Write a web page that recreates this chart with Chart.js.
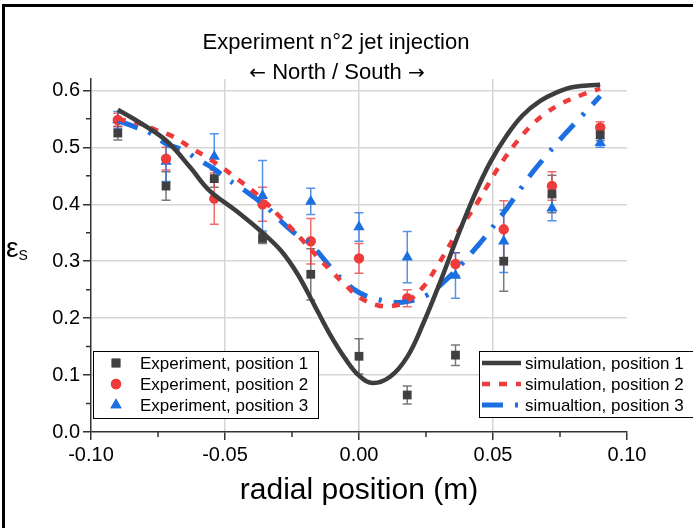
<!DOCTYPE html>
<html><head><meta charset="utf-8">
<script src="https://cdn.jsdelivr.net/npm/chart.js@4.4.1/dist/chart.umd.min.js"></script>
<style>
html,body{margin:0;padding:0;background:#fff;}
#wrap{position:relative;width:693px;height:528px;overflow:hidden;font-family:"Liberation Sans",Arial,sans-serif;background:#fff;}
#c{position:absolute;left:0;top:0;}
.t{position:absolute;white-space:nowrap;color:#000;transform:translate(-50%,-50%);}
.ar{font-family:"DejaVu Sans",sans-serif;font-size:20px;}
#frame{position:absolute;left:2px;top:4px;width:800px;height:700px;border:3px solid #000;}
</style></head><body>
<div id="wrap">
<canvas id="c" width="693" height="528"></canvas>
<div id="frame"></div>
<div class="t" style="left:336px;top:42px;font-size:22px">Experiment n°2 jet injection</div>
<div class="t" style="left:337px;top:72px;font-size:22px"><span class="ar">←</span> North / South <span class="ar">→</span></div>
<div style="position:absolute;left:6px;top:233px;font-size:28px;line-height:30px;color:#000;">ε<span style="font-size:14px;position:relative;top:3px;">S</span></div>
</div>
<script>
// ---- data ----
const expX = [-0.09, -0.072, -0.054, -0.036, -0.018, 0.0, 0.018, 0.036, 0.054, 0.072, 0.09];
const exp1 = [0.525, 0.432, 0.445, 0.340, 0.277, 0.133, 0.065, 0.135, 0.300, 0.418, 0.522];
const err1 = [0.012, 0.025, 0.015, 0.009, 0.045, 0.031, 0.016, 0.018, 0.053, 0.033, 0.010];
const exp2 = [0.548, 0.480, 0.410, 0.400, 0.335, 0.305, 0.235, 0.295, 0.356, 0.432, 0.535];
const err2 = [0.012, 0.020, 0.045, 0.030, 0.040, 0.026, 0.015, 0.020, 0.050, 0.025, 0.010];
const exp3 = [0.548, 0.475, 0.484, 0.415, 0.405, 0.360, 0.307, 0.275, 0.335, 0.393, 0.508];
const err3 = [0.015, 0.035, 0.040, 0.062, 0.023, 0.025, 0.045, 0.040, 0.055, 0.022, 0.008];

const simX1 = [-0.09, -0.082, -0.072, -0.063, -0.056, -0.046, -0.036, -0.029, -0.023, -0.017, -0.011, -0.005, 0.0, 0.005, 0.0116, 0.018, 0.024, 0.030, 0.0365, 0.043, 0.049, 0.055, 0.061, 0.0675, 0.074, 0.080, 0.09];
const simY1 = [0.566, 0.544, 0.512, 0.465, 0.425, 0.389, 0.350, 0.318, 0.278, 0.226, 0.173, 0.128, 0.099, 0.086, 0.097, 0.132, 0.191, 0.260, 0.340, 0.415, 0.474, 0.520, 0.556, 0.581, 0.597, 0.606, 0.610];

const simX2 = [-0.09, -0.082, -0.0755, -0.069, -0.063, -0.057, -0.0506, -0.0456, -0.04, -0.0344, -0.0295, -0.0245, -0.02, -0.015, -0.010, -0.005, 0.0, 0.0066, 0.012, 0.0178, 0.024, 0.029, 0.036, 0.0439, 0.0476, 0.0514, 0.0551, 0.0588, 0.0638, 0.0694, 0.0756, 0.0825, 0.09];
const simY2 = [0.550, 0.542, 0.530, 0.518, 0.500, 0.483, 0.463, 0.445, 0.425, 0.401, 0.378, 0.354, 0.331, 0.305, 0.281, 0.258, 0.237, 0.223, 0.221, 0.229, 0.255, 0.290, 0.345, 0.401, 0.430, 0.460, 0.486, 0.509, 0.536, 0.559, 0.577, 0.591, 0.603];

const simX3 = [-0.09, -0.0836, -0.0774, -0.0718, -0.0655, -0.0606, -0.0544, -0.0494, -0.0444, -0.0394, -0.0344, -0.0295, -0.0245, -0.0183, -0.0096, -0.005, 0.0, 0.0053, 0.0128, 0.0178, 0.0252, 0.0327, 0.0389, 0.0439, 0.0464, 0.0538, 0.0588, 0.0644, 0.0707, 0.0762, 0.0837, 0.09];
const simY3 = [0.547, 0.536, 0.524, 0.506, 0.495, 0.480, 0.463, 0.445, 0.430, 0.413, 0.395, 0.372, 0.351, 0.331, 0.284, 0.262, 0.245, 0.235, 0.228, 0.229, 0.240, 0.268, 0.298, 0.325, 0.339, 0.384, 0.417, 0.454, 0.490, 0.520, 0.558, 0.590];

const xTicks = [-0.10, -0.05, 0.0, 0.05, 0.10];
const xMinor = [-0.075, -0.025, 0.025, 0.075];
const yTicks = [0.0, 0.1, 0.2, 0.3, 0.4, 0.5, 0.6];
const yMinor = [0.05, 0.15, 0.25, 0.35, 0.45, 0.55];

const labels = ['Experiment, position 1', 'Experiment, position 2', 'Experiment, position 3',
                'simulation, position 1', 'simulation, position 2', 'simualtion, position 3'];

// ---- styles ----
const GRAY = '#404040', RED = '#ef3b3b', BLUE = '#1c6fe0';
const FONT = '"Liberation Sans", Arial, sans-serif';
const pts = (xs, ys) => xs.map((x, i) => ({x: x, y: ys[i]}));
const errs = [err1, err2, err3];

const errorBars = {
  id: 'errorBars',
  beforeDatasetsDraw(chart) {
    const ctx = chart.ctx, xs = chart.scales.x, ys = chart.scales.y;
    ctx.save();
    for (let d = 0; d < 3; d++) {
      const ds = chart.data.datasets[d];
      ctx.strokeStyle = ds.errColor;
      ctx.lineWidth = 1.5;
      ds.data.forEach((p, i) => {
        const e = errs[d][i];
        const px = xs.getPixelForValue(p.x);
        const y1 = ys.getPixelForValue(p.y + e), y2 = ys.getPixelForValue(p.y - e);
        ctx.beginPath();
        ctx.moveTo(px, y1); ctx.lineTo(px, y2);
        ctx.moveTo(px - 4.5, y1); ctx.lineTo(px + 4.5, y1);
        ctx.moveTo(px - 4.5, y2); ctx.lineTo(px + 4.5, y2);
        ctx.stroke();
      });
    }
    ctx.restore();
  }
};

const extras = {
  id: 'extras',
  afterDraw(chart) {
    const ctx = chart.ctx, xs = chart.scales.x, ys = chart.scales.y;
    const a = chart.chartArea;
    ctx.save();
    // minor ticks
    ctx.strokeStyle = '#333'; ctx.lineWidth = 1.5;
    ctx.beginPath();
    xMinor.forEach(v => { const px = xs.getPixelForValue(v); ctx.moveTo(px, a.bottom); ctx.lineTo(px, a.bottom + 5); });
    yMinor.forEach(v => { const py = ys.getPixelForValue(v); ctx.moveTo(a.left, py); ctx.lineTo(a.left - 5, py); });
    ctx.stroke();

    // legends
    const rows = [363, 384, 405];
    ctx.font = '17px ' + FONT;
    ctx.textBaseline = 'middle';
    ctx.textAlign = 'left';
    // left legend
    ctx.fillStyle = '#fff';
    ctx.fillRect(93.5, 351.5, 225, 67);
    ctx.strokeStyle = '#000'; ctx.lineWidth = 1;
    ctx.strokeRect(93.5, 351.5, 225, 67);
    for (let d = 0; d < 3; d++) {
      const ds = chart.data.datasets[d];
      ctx.fillStyle = ds.backgroundColor;
      ctx.strokeStyle = ds.backgroundColor;
      Chart.helpers.drawPoint(ctx, {pointStyle: ds.pointStyle, radius: ds.pointRadius, borderWidth: 0, rotation: 0}, 116, rows[d]);
      ctx.fill();
      ctx.fillStyle = '#000';
      ctx.fillText(ds.label, 140, rows[d] + 1);
    }
    // right legend
    ctx.fillStyle = '#fff';
    ctx.fillRect(479.5, 351.5, 240, 66);
    ctx.strokeStyle = '#000'; ctx.lineWidth = 1; ctx.setLineDash([]);
    ctx.strokeRect(479.5, 351.5, 240, 66);
    for (let d = 3; d < 6; d++) {
      const ds = chart.data.datasets[d];
      const ry = rows[d - 3];
      ctx.save();
      ctx.strokeStyle = ds.borderColor;
      ctx.lineWidth = ds.borderWidth;
      ctx.setLineDash(ds.borderDash || []);
      ctx.beginPath(); ctx.moveTo(482, ry); ctx.lineTo(521, ry); ctx.stroke();
      ctx.restore();
      ctx.fillStyle = '#000';
      ctx.fillText(ds.label, 525, ry + 1);
    }
    ctx.restore();
  }
};

new Chart(document.getElementById('c'), {
  type: 'line',
  data: {
    datasets: [
      {type: 'scatter', label: labels[0], data: pts(expX, exp1), pointStyle: 'rect', pointRadius: 6.2, backgroundColor: GRAY, borderColor: GRAY, borderWidth: 0, errColor: 'rgba(64,64,64,0.7)', order: 2},
      {type: 'scatter', label: labels[1], data: pts(expX, exp2), pointStyle: 'circle', pointRadius: 5.2, backgroundColor: RED, borderColor: RED, borderWidth: 0, errColor: 'rgba(239,59,59,0.75)', order: 2},
      {type: 'scatter', label: labels[2], data: pts(expX, exp3), pointStyle: 'triangle', pointRadius: 6.5, backgroundColor: BLUE, borderColor: BLUE, borderWidth: 0, errColor: 'rgba(28,111,224,0.75)', order: 2},
      {label: labels[3], data: pts(simX1, simY1), borderColor: '#3d3d3d', borderWidth: 4.5, pointRadius: 0, fill: false, tension: 0.4, order: 1},
      {label: labels[4], data: pts(simX2, simY2), borderColor: RED, borderWidth: 4.5, borderDash: [8, 9], pointRadius: 0, fill: false, tension: 0.4, order: 1},
      {label: labels[5], data: pts(simX3, simY3), borderColor: BLUE, borderWidth: 5, borderDash: [21, 12, 3, 12], pointRadius: 0, fill: false, tension: 0.4, order: 1}
    ]
  },
  options: {
    responsive: false,
    animation: false,
    devicePixelRatio: 1,
    layout: {padding: {top: 79, right: 66, left: 0, bottom: 0}},
    plugins: {legend: {display: false}, title: {display: false}, tooltip: {enabled: false}},
    scales: {
      x: {
        type: 'linear', min: -0.10, max: 0.10,
        afterBuildTicks: s => { s.ticks = xTicks.map(v => ({value: v})); },
        afterFit: s => { s.height = 96; },
        ticks: {color: '#000', font: {family: FONT, size: 20}, padding: 3, maxRotation: 0, autoSkip: false,
                callback: v => Number(v).toFixed(2)},
        grid: {color: c => (c.tick && Math.abs(c.tick.value) > 0.099) ? 'rgba(0,0,0,0)' : '#d6d6d6',
               lineWidth: 1.5, tickLength: 8, tickColor: '#333', tickWidth: 1.5, drawTicks: true},
        border: {color: '#333', width: 1.5},
        title: {display: true, text: 'radial position (m)', color: '#000', font: {family: FONT, size: 30}, padding: {top: 0, bottom: 19}}
      },
      y: {
        type: 'linear', min: 0, max: 0.62,
        afterBuildTicks: s => { s.ticks = yTicks.map(v => ({value: v})); },
        afterFit: s => { s.width = 91; },
        ticks: {color: '#000', font: {family: FONT, size: 20}, padding: 3, autoSkip: false,
                callback: v => Number(v).toFixed(1)},
        grid: {color: c => (c.tick && c.tick.value === 0) ? 'rgba(0,0,0,0)' : '#d6d6d6',
               lineWidth: 1.5, tickLength: 8, tickColor: '#333', tickWidth: 1.5, drawTicks: true},
        border: {color: '#333', width: 1.5}
      }
    }
  },
  plugins: [errorBars, extras]
});
</script>
</body></html>
